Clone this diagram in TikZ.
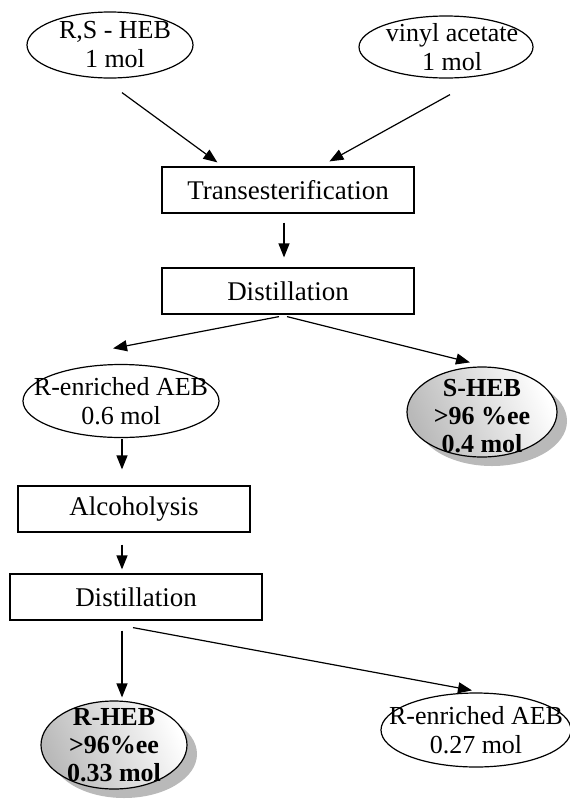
\documentclass[tikz,border=0pt]{standalone}
\usepackage{fontspec}
\setmainfont{Liberation Serif}
\usetikzlibrary{shapes.geometric,arrows.meta,shadows,calc}

\begin{document}
\begin{tikzpicture}[x=0.5pt, y=-0.5pt,
  stepbox/.style={draw, rectangle, line width=0.6pt, inner sep=0pt,
    minimum width=126pt, minimum height=23pt,
    font=\fontsize{13.5}{15}\selectfont},
  feed/.style={draw, ellipse, line width=0.6pt, inner sep=0pt},
  feedtext/.style={align=center, font=\fontsize{13}{14.5}\selectfont},
  product/.style={draw, ellipse, line width=0.6pt, inner sep=0pt,
    left color=gray!55, right color=white, shading angle=115,
    drop shadow={shadow xshift=5pt, shadow yshift=-4.5pt, fill=black!55}},
  producttext/.style={align=center, font=\bfseries\fontsize{13}{14}\selectfont},
  flow/.style={-{Triangle[length=7pt, width=5.5pt]}, line width=0.6pt}]
  \useasboundingbox (0,0) rectangle (569,804);

  \node[feed, minimum width=83pt, minimum height=33pt,
    label={[feedtext, xshift=2.5pt]center:{R,S - HEB\\1 mol}}] (hebrs) at (110,45) {};
  \node[feed, minimum width=87pt, minimum height=31pt,
    label={[feedtext, xshift=3pt]center:{vinyl acetate\\1 mol}}] (vinyl) at (446,47) {};
  \node[stepbox] (trans) at (288,190) {Transesterification};
  \node[stepbox] (dist) at (288,291) {Distillation};
  \node[feed, minimum width=98pt, minimum height=36.5pt,
    label={[feedtext]center:{R-enriched AEB\\0.6 mol}}] (aebrich) at (121,401) {};
  \node[product, minimum width=75pt, minimum height=45pt,
    label={[producttext, yshift=-2pt]center:{S-HEB\\>96 \%ee\\0.4 mol}}] (sheb) at (482,412) {};
  \node[stepbox, minimum width=116pt] (alco) at (134,509) {Alcoholysis};
  \node[stepbox] (distb) at (136,597) {Distillation};
  \node[product, minimum width=73pt, minimum height=44pt,
    label={[producttext]center:{R-HEB\\>96\%ee\\0.33 mol}}] (rheb) at (114,745) {};
  \node[feed, minimum width=95pt, minimum height=37pt,
    label={[feedtext]center:{R-enriched AEB\\0.27 mol}}] (aebrest) at (476,730) {};

  \draw[flow] ($(hebrs.south)+(12,14)$) -- ($(trans.north west)+(56,-4)$);
  \draw[flow] ($(vinyl.south)+(4,16)$) -- ($(trans.north west)+(168,-5)$);
  \draw[flow] ($(trans.south)+(-4,9)$) -- ($(dist.north)+(-4,-10)$);
  \draw[flow] ($(dist.south)+(-9,2)$) -- ($(aebrich.north)+(-8,-15.5)$);
  \draw[flow] ($(dist.south)+(-1,2)$) -- ($(sheb.north)+(-12,-4)$);
  \draw[flow] ($(aebrich.south)+(1,1)$) -- ($(alco.north)+(-12,-16)$);
  \draw[flow] ($(alco.south)+(-12,12)$) -- ($(distb.north)+(-14,-4)$);
  \draw[flow] ($(distb.south)+(-14,10)$) -- ($(rheb.north)+(8,-3)$);
  \draw[flow] ($(distb.south)+(-3,7)$) -- ($(aebrest.north)+(-4,-2)$);
\end{tikzpicture}
\end{document}
